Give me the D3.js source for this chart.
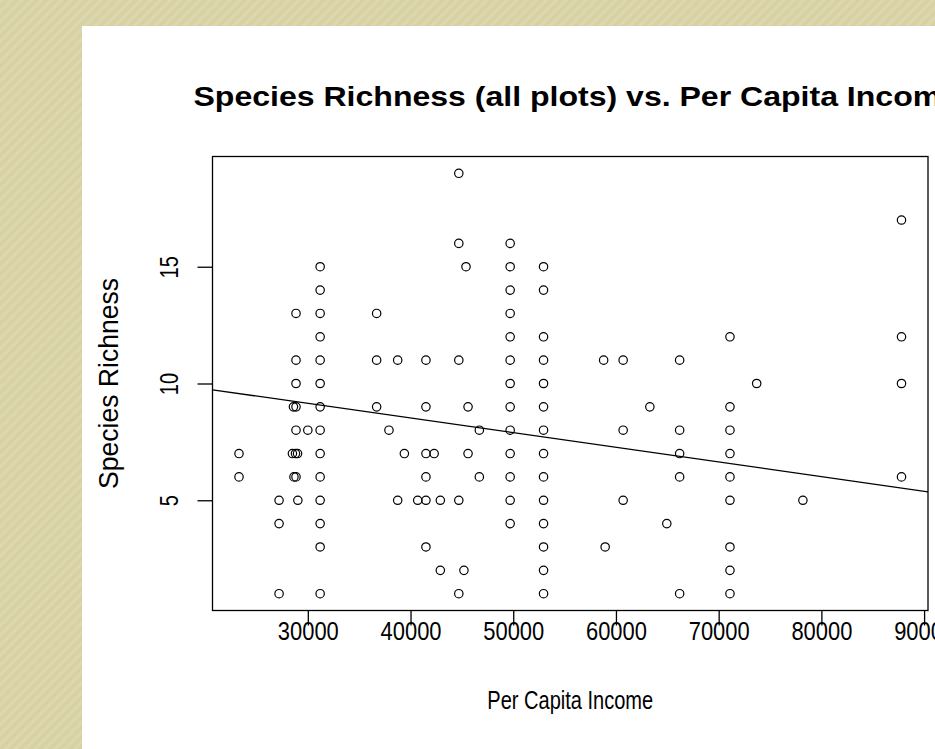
<!DOCTYPE html>
<html>
<head>
<meta charset="utf-8">
<script src="https://cdn.jsdelivr.net/npm/d3@7"></script>
<style>
  body { margin: 0; overflow: hidden; }
  text { font-family: "Liberation Sans", Arial, sans-serif; fill: #000; }
</style>
</head>
<body>
<div id="chart"></div>
<script>
// per capita income of each plot (one line per income level)
var income = [
  23300, 23300,
  27200, 27200, 27200,
  28600, 28500, 28650,
  28850, 28850, 28850, 28850, 28850, 28800, 28850,
  29000, 29030,
  30000,
  31200, 31200, 31200, 31200, 31200, 31200, 31200, 31200, 31200, 31200, 31200, 31200, 31200, 31200,
  36700, 36700, 36700,
  37900,
  38750, 38750,
  39400,
  40700,
  41500, 41500, 41500, 41500, 41500, 41500,
  42300,
  42900, 42900,
  44700, 44700, 44700, 44700, 44700,
  45200,
  45400,
  45600, 45600,
  46700, 46700,
  49700, 49700, 49700, 49700, 49700, 49700, 49700, 49700, 49700, 49700, 49700, 49700, 49700,
  52950, 52950, 52950, 52950, 52950, 52950, 52950, 52950, 52950, 52950, 52950, 52950, 52950, 52950,
  58800,
  58950,
  60700, 60700, 60700,
  63300,
  64950,
  66200, 66200, 66200, 66200, 66200,
  71100, 71100, 71100, 71100, 71100, 71100, 71100, 71100, 71100,
  73700,
  78200,
  87800, 87800, 87800, 87800
];

// species richness of each plot, same order as income
var richness = [
  7, 6,
  5, 4, 1,
  9, 7, 6,
  13, 11, 10, 9, 8, 7, 6,
  7, 5,
  8,
  15, 14, 13, 12, 11, 10, 9, 8, 7, 6, 5, 4, 3, 1,
  13, 11, 9,
  8,
  11, 5,
  7,
  5,
  11, 9, 7, 6, 5, 3,
  7,
  5, 2,
  19, 16, 11, 5, 1,
  2,
  15,
  9, 7,
  8, 6,
  16, 15, 14, 13, 12, 11, 10, 9, 8, 7, 6, 5, 4,
  15, 14, 12, 11, 10, 9, 8, 7, 6, 5, 4, 3, 2, 1,
  11,
  3,
  11, 8, 5,
  9,
  4,
  11, 8, 7, 6, 1,
  12, 9, 8, 7, 6, 5, 3, 2, 1,
  10,
  5,
  17, 12, 10, 6
];

var xTicks = [30000, 40000, 50000, 60000, 70000, 80000, 90000];
var yTicks = [5, 10, 15];

// least squares line
var fitIntercept = 11.03;
var fitSlope = -0.0000627;

var width = 935, height = 749;
var box = {left: 212.5, right: 928, top: 156.5, bottom: 610.5};

var svg = d3.select("#chart").append("svg")
    .attr("width", width)
    .attr("height", height);

// striped khaki page background
var defs = svg.append("defs");
var pat = defs.append("pattern")
    .attr("id", "stripes")
    .attr("patternUnits", "userSpaceOnUse")
    .attr("width", 7)
    .attr("height", 7)
    .attr("patternTransform", "rotate(45)");
pat.append("rect").attr("width", 7).attr("height", 7).attr("fill", "#d7d1a4");
pat.append("rect").attr("width", 3).attr("height", 7).attr("fill", "#ddd7ae");

svg.append("rect")
    .attr("width", width)
    .attr("height", height)
    .attr("fill", "url(#stripes)");

svg.append("rect")
    .attr("x", 82)
    .attr("y", 26)
    .attr("width", width - 82)
    .attr("height", height - 26)
    .attr("fill", "#fff");

// R style range: data extent padded by 4% on each side
function padded(ext) {
  var p = (ext[1] - ext[0]) * 0.04;
  return [ext[0] - p, ext[1] + p];
}

var x = d3.scaleLinear()
  .domain(padded(d3.extent(income)))
  .range([box.left, box.right]);

var y = d3.scaleLinear()
  .domain(padded(d3.extent(richness)))
  .range([box.bottom, box.top]);

// squeeze text along its own direction to a target length
function squeeze(sel, target) {
  sel.each(function() {
    var w = this.getComputedTextLength();
    var t = d3.select(this).attr("transform") || "";
    d3.select(this).attr("transform", t + " scale(" + (target / w) + ",1)");
  });
}

// x axis
var xAxis = svg.append("g")
  .attr("transform", "translate(0," + box.bottom + ")")
  .call(d3.axisBottom(x).tickValues(xTicks).tickSize(15).tickPadding(0).tickFormat(d3.format("d")));
xAxis.select(".domain").remove();
xAxis.selectAll("line").attr("stroke", "#000").attr("stroke-width", 1.3);
xAxis.selectAll("text")
    .attr("y", 30)
    .attr("dy", 0)
    .style("font-size", "25px")
    .call(squeeze, 61);

// y axis
var yAxis = svg.append("g")
  .attr("transform", "translate(" + box.left + ",0)")
  .call(d3.axisLeft(y).tickValues(yTicks).tickSize(15));
yAxis.select(".domain").remove();
yAxis.selectAll("line").attr("stroke", "#000").attr("stroke-width", 1.3);
yAxis.selectAll("text")
    .attr("x", 0)
    .attr("y", -35)
    .attr("dy", 0)
    .attr("text-anchor", "middle")
    .attr("transform", "rotate(-90)")
    .style("font-size", "25px")
    .each(function(d) {
      d3.select(this).call(squeeze, 11.2 * String(d).length);
    });

// plot box
svg.append("rect")
    .attr("x", box.left)
    .attr("y", box.top)
    .attr("width", box.right - box.left)
    .attr("height", box.bottom - box.top)
    .attr("fill", "none")
    .attr("stroke", "#000")
    .attr("stroke-width", 1.3);

// fitted line, clipped to the box like abline()
defs.append("clipPath").attr("id", "plotclip")
  .append("rect")
    .attr("x", box.left)
    .attr("y", box.top)
    .attr("width", box.right - box.left)
    .attr("height", box.bottom - box.top);

var xd = x.domain();
svg.append("line")
    .attr("clip-path", "url(#plotclip)")
    .attr("x1", x(xd[0]))
    .attr("y1", y(fitIntercept + fitSlope * xd[0]))
    .attr("x2", x(xd[1]))
    .attr("y2", y(fitIntercept + fitSlope * xd[1]))
    .attr("stroke", "#000")
    .attr("stroke-width", 1.3);

// open circles
svg.append("g").selectAll("circle")
  .data(income)
  .enter()
  .append("circle")
    .attr("cx", function(d) { return x(d); })
    .attr("cy", function(d, i) { return y(richness[i]); })
    .attr("r", 4.2)
    .attr("fill", "none")
    .attr("stroke", "#000")
    .attr("stroke-width", 1.2);

// titles
var cx = (box.left + box.right) / 2;
var titleX = cx + 6;

svg.append("text")
    .attr("x", titleX)
    .attr("y", 106)
    .attr("text-anchor", "middle")
    .attr("font-weight", 700)
    .style("font-size", "28px")
    .text("Species Richness (all plots) vs. Per Capita Income")
    .call(function(sel) {
      var w = sel.node().getComputedTextLength();
      sel.attr("transform", "translate(" + titleX + ",0) scale(" + (766 / w) + ",1) translate(" + (-titleX) + ",0)");
    });

svg.append("text")
    .attr("x", cx)
    .attr("y", 709)
    .attr("text-anchor", "middle")
    .style("font-size", "25px")
    .text("Per Capita Income")
    .call(function(sel) {
      var w = sel.node().getComputedTextLength();
      sel.attr("transform", "translate(" + cx + ",0) scale(" + (166 / w) + ",1) translate(" + (-cx) + ",0)");
    });

svg.append("text")
    .attr("transform", "translate(118," + ((box.top + box.bottom) / 2) + ") rotate(-90)")
    .attr("text-anchor", "middle")
    .style("font-size", "27px")
    .text("Species Richness")
    .call(squeeze, 211);
</script>
</body>
</html>
